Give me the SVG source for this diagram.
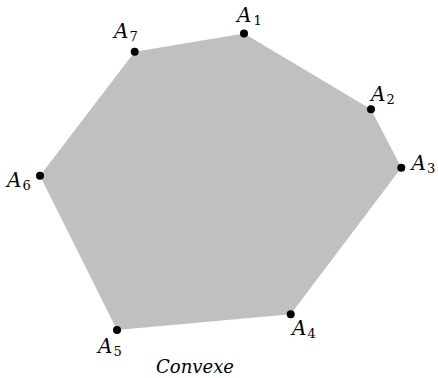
<svg xmlns="http://www.w3.org/2000/svg" width="438" height="378" viewBox="0 0 438 378">
<defs>
<style type="text/css">
text.lbl{font-family:'DejaVu Serif',serif;font-style:italic;font-size:20px;fill:#000000}
tspan.sub{font-style:normal;font-size:13px}
</style>
</defs>
<rect width="438" height="378" fill="#ffffff"/>
<g id="polygon">
<polygon points="244,33.5 371,109.3 401.3,167.7 290.7,314.3 117,330 40,175.7 134.7,51.7" fill="#c0c0c0"/>
</g>
<g id="A1"><circle cx="244" cy="33.5" r="4" fill="#000"/><text class="lbl" x="237" y="22">A<tspan class="sub" x="253.5" dy="3">1</tspan></text></g>
<g id="A2"><circle cx="371" cy="109.3" r="4" fill="#000"/><text class="lbl" x="371" y="101">A<tspan class="sub" x="386.5" dy="3">2</tspan></text></g>
<g id="A3"><circle cx="401.3" cy="167.7" r="4" fill="#000"/><text class="lbl" x="411.5" y="169.5">A<tspan class="sub" x="427" dy="3">3</tspan></text></g>
<g id="A4"><circle cx="290.7" cy="314.3" r="4" fill="#000"/><text class="lbl" x="292" y="335">A<tspan class="sub" x="307.5" dy="3">4</tspan></text></g>
<g id="A5"><circle cx="117" cy="330" r="4" fill="#000"/><text class="lbl" x="98" y="352.5">A<tspan class="sub" x="113.5" dy="3">5</tspan></text></g>
<g id="A6"><circle cx="40" cy="175.7" r="4" fill="#000"/><text class="lbl" x="7" y="186.5">A<tspan class="sub" x="22.5" dy="3">6</tspan></text></g>
<g id="A7"><circle cx="134.7" cy="51.7" r="4" fill="#000"/><text class="lbl" x="114" y="37.5">A<tspan class="sub" x="129.5" dy="3">7</tspan></text></g>
<g id="caption"><text class="lbl" x="156" y="373" style="font-size:18px" textLength="78" lengthAdjust="spacingAndGlyphs">Convexe</text></g>
<g id="connectors"></g>
</svg>
